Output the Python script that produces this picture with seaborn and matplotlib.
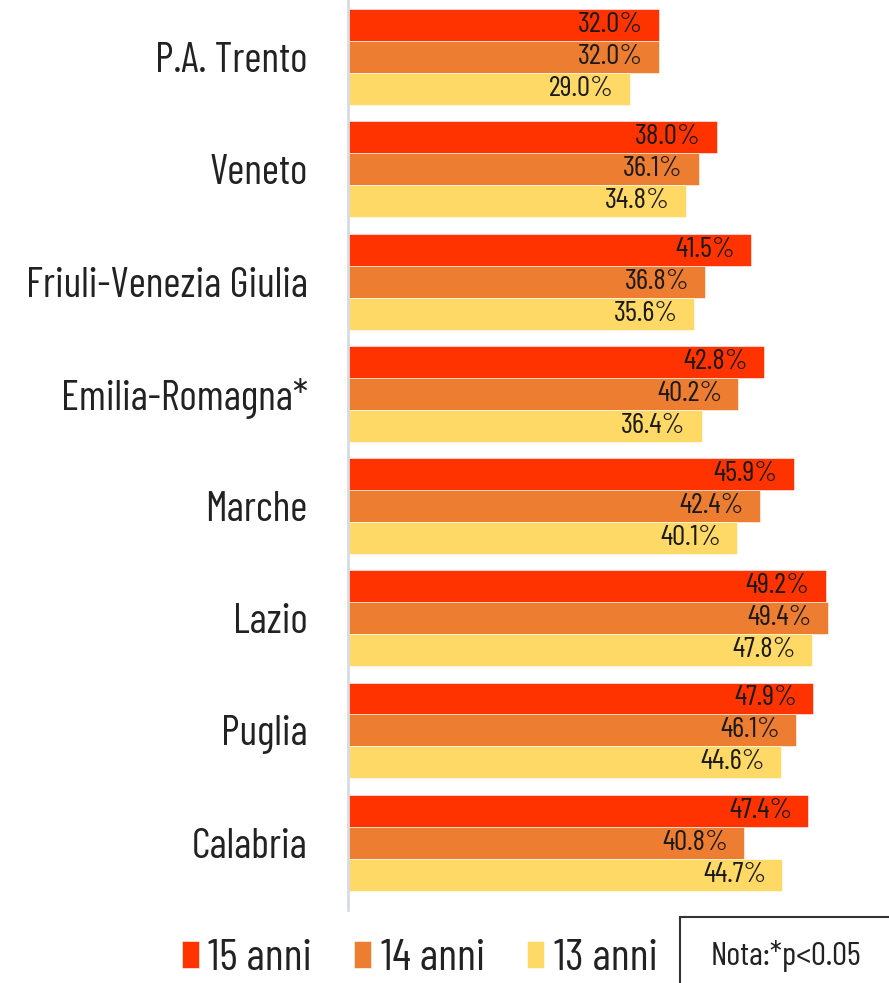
import pandas as pd
import seaborn as sns
import matplotlib.pyplot as plt
from matplotlib.patches import Rectangle

# Data
regions = ['P.A. Trento', 'Veneto', 'Friuli-Venezia Giulia', 'Emilia-Romagna*',
           'Marche', 'Lazio', 'Puglia', 'Calabria']
age_labels = ['15 anni', '14 anni', '13 anni']
v15 = [32.0, 38.0, 41.5, 42.8, 45.9, 49.2, 47.9, 47.4]
v14 = [32.0, 36.1, 36.8, 40.2, 42.4, 49.4, 46.1, 40.8]
v13 = [29.0, 34.8, 35.6, 36.4, 40.1, 47.8, 44.6, 44.7]
colors = ['#FF3300', '#ED7D31', '#FFD966']

df = pd.DataFrame({'regione': regions * 3,
                   'eta': [age_labels[0]] * 8 + [age_labels[1]] * 8 + [age_labels[2]] * 8,
                   'valore': v15 + v14 + v13})

sns.set_style('white')
plt.rcParams['font.family'] = ['Barlow Condensed', 'Open Sans', 'DejaVu Sans']

fig = plt.figure(figsize=(8.89, 9.83), dpi=100)
ax = fig.add_axes([348 / 889, 73 / 983, 1 - 348 / 889, 910 / 983])

sns.barplot(data=df, x='valore', y='regione', hue='eta', orient='h',
            palette=colors, width=0.855, saturation=1, ax=ax,
            edgecolor='white', linewidth=0.4)

# value labels inside the bar ends
for cont in ax.containers:
    for p in cont:
        w = p.get_width()
        ax.annotate(f'{w:.1f}%', xy=(w, p.get_y() + p.get_height() / 2),
                    xytext=(-16, 0), textcoords='offset pixels',
                    ha='right', va='center', fontsize=21, color='#1a1a1a')

ax.set_xlim(0, 55.7)
ax.set_ylim(7.6, -0.51)
ax.set_xlabel('')
ax.set_ylabel('')
ax.set_xticks([])
ax.tick_params(axis='y', length=0, pad=29, labelsize=30, labelcolor='#222222')
for s in ['top', 'right', 'bottom']:
    ax.spines[s].set_visible(False)
ax.spines['left'].set_color('#D6DCE5')
ax.spines['left'].set_linewidth(2)

handles, labels = ax.get_legend_handles_labels()
ax.get_legend().remove()
fig.legend(handles, labels, ncol=3, loc='center', bbox_to_anchor=(0.472, 0.024),
           frameon=False, fontsize=32, handlelength=0.38, handleheight=0.55,
           handletextpad=0.22, columnspacing=0.95, labelcolor='#222222')

# note box
fig.patches.append(Rectangle((680 / 889, -0.05), 0.3, 66 / 983 + 0.05,
                             transform=fig.transFigure, fill=False,
                             edgecolor='#333333', linewidth=1.5))
fig.text(786 / 889, 0.027, 'Nota:*p<0.05', ha='center', va='center',
         fontsize=24, color='#222222')

fig.savefig('out.png', dpi=100)
